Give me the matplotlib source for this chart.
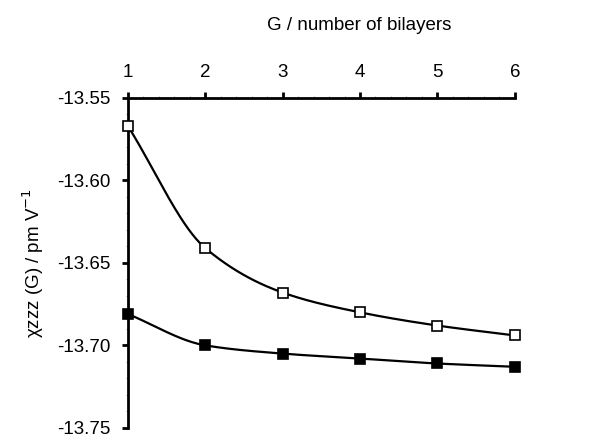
import matplotlib
matplotlib.use("Agg")
import matplotlib.pyplot as plt
import numpy as np
from matplotlib.ticker import MultipleLocator

plt.rcParams['font.family'] = ['Liberation Sans', 'DejaVu Sans']

# data
bilayers = [1, 2, 3, 4, 5, 6]
chi_open = [-13.567, -13.641, -13.668, -13.680, -13.688, -13.694]
chi_filled = [-13.681, -13.700, -13.705, -13.708, -13.711, -13.713]


def smooth(x, y, n=200):
    # monotone cubic (Fritsch-Carlson) just for drawing the curve
    x = np.asarray(x, float)
    y = np.asarray(y, float)
    h = np.diff(x)
    d = np.diff(y) / h
    m = np.zeros_like(y)
    m[0], m[-1] = d[0], d[-1]
    for i in range(1, len(x) - 1):
        if d[i - 1] * d[i] > 0:
            w1 = 2 * h[i] + h[i - 1]
            w2 = h[i] + 2 * h[i - 1]
            m[i] = (w1 + w2) / (w1 / d[i - 1] + w2 / d[i])
    xs = np.linspace(x[0], x[-1], n)
    idx = np.clip(np.searchsorted(x, xs) - 1, 0, len(x) - 2)
    t = (xs - x[idx]) / h[idx]
    h00 = 2 * t**3 - 3 * t**2 + 1
    h10 = t**3 - 2 * t**2 + t
    h01 = -2 * t**3 + 3 * t**2
    h11 = t**3 - t**2
    ys = h00 * y[idx] + h10 * h[idx] * m[idx] + h01 * y[idx + 1] + h11 * h[idx] * m[idx + 1]
    return xs, ys


fig = plt.figure(figsize=(5.89, 4.37), dpi=100)
ax = fig.add_axes([0.217, 0.021, 0.657, 0.755])

for vals, face in [(chi_open, 'white'), (chi_filled, 'black')]:
    xs, ys = smooth(bilayers, vals)
    ax.plot(xs, ys, color='black', lw=1.6, zorder=2)
    ax.plot(bilayers, vals, ls='none', marker='s', ms=7.5, mfc=face,
            mec='black', mew=1.2, zorder=3, clip_on=False)

ax.set_xlim(1, 6)
ax.set_ylim(-13.75, -13.55)
ax.xaxis.set_ticks_position('top')
ax.xaxis.set_label_position('top')
ax.set_xticks(bilayers)
ax.yaxis.set_major_locator(MultipleLocator(0.05))
ax.yaxis.set_minor_locator(MultipleLocator(0.01))
ax.xaxis.set_minor_locator(MultipleLocator(0.2))
ax.yaxis.set_major_formatter(matplotlib.ticker.FormatStrFormatter('%.2f'))

for s in ['right', 'bottom']:
    ax.spines[s].set_visible(False)
for s in ['left', 'top']:
    ax.spines[s].set_linewidth(2)

ax.tick_params(axis='both', which='major', direction='out', length=4.5, width=2,
               labelsize=13.5)
ax.tick_params(axis='y', which='major', pad=8)
ax.tick_params(axis='x', which='major', pad=8)
ax.tick_params(axis='both', which='minor', direction='out', length=1.5,
               width=0.5, color='0.5')

ax.set_xlabel('G / number of bilayers', fontsize=13.5)
ax.xaxis.set_label_coords(0.597, 1.205)
ax.set_ylabel('χzzz (G) / pm V$^{-1}$', fontsize=13.5, labelpad=8)

fig.savefig('out.png', dpi=100)
